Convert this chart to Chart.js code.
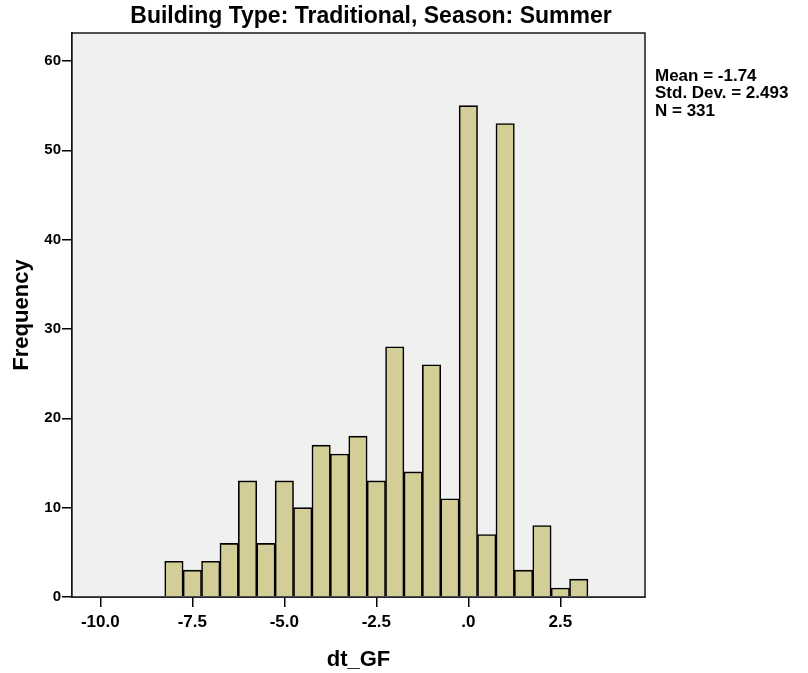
<!DOCTYPE html>
<html>
<head>
<meta charset="utf-8">
<script src="https://cdn.jsdelivr.net/npm/chart.js@4.4.1/dist/chart.umd.min.js"></script>
<style>
  html, body { margin: 0; padding: 0; background: #fff; }
</style>
</head>
<body>
<canvas id="histChart" width="808" height="673"></canvas>
<script>
// histogram bins (centre of each 0.5-wide bin) and counts
const binCenters = [-8.0, -7.5, -7.0, -6.5, -6.0, -5.5, -5.0, -4.5, -4.0, -3.5, -3.0, -2.5,
                    -2.0, -1.5, -1.0, -0.5, 0.0, 0.5, 1.0, 1.5, 2.0, 2.5, 3.0];
const frequencies = [4, 3, 4, 6, 13, 6, 13, 10, 17, 16, 18, 13,
                     28, 14, 26, 11, 55, 7, 53, 3, 8, 1, 2];
const xTickValues = [-10, -7.5, -5, -2.5, 0, 2.5];
const yTickValues = [0, 10, 20, 30, 40, 50, 60];
const statLines = ["Mean = -1.74", "Std. Dev. = 2.493", "N = 331"];
const chartTitle = "Building Type: Traditional, Season: Summer";

const FONT = "'Liberation Sans', Arial, sans-serif";

function fmtX(v) {
  let s = Number(v).toFixed(1);
  if (s === "0.0" || s === "-0.0") s = ".0";
  return s;
}

// panel background, frame, title and the summary block
const framePlugin = {
  id: "frame",
  beforeDatasetsDraw(chart) {
    const a = chart.chartArea, c = chart.ctx;
    c.save();
    c.fillStyle = "#f0f0f0";
    c.fillRect(a.left, a.top, a.right - a.left, a.bottom - a.top);
    c.restore();
  },
  afterDraw(chart) {
    const a = chart.chartArea, c = chart.ctx;
    c.save();
    c.strokeStyle = "#1a1a1a";
    c.lineWidth = 1.5;
    c.strokeRect(a.left, a.top, a.right - a.left, a.bottom - a.top);

    c.fillStyle = "#000";
    c.font = "bold 23px " + FONT;
    c.textAlign = "center";
    c.textBaseline = "middle";
    c.fillText(chartTitle, 371, 17);

    c.font = "bold 17px " + FONT;
    c.textAlign = "left";
    statLines.forEach((t, i) => c.fillText(t, 655, 76 + i * 17.5));
    c.restore();
  }
};

const ctx = document.getElementById("histChart").getContext("2d");

const histChart = new Chart(ctx, {
  type: "bar",
  data: {
    datasets: [
      {
        data: binCenters.map((x, i) => ({ x: x, y: frequencies[i] })),
        backgroundColor: "rgb(211, 206, 151)",
        borderColor: "#000",
        borderWidth: 1.6,
        barPercentage: 1,
        categoryPercentage: 1,
      },
    ],
  },
  options: {
    responsive: false,
    animation: false,
    layout: { padding: { top: 33, right: 163, left: 0, bottom: 0 } },
    plugins: {
      legend: { display: false },
      tooltip: { enabled: false },
    },
    scales: {
      x: {
        type: "linear",
        offset: false,
        min: -10.77,
        max: 4.8,
        afterBuildTicks(scale) {
          scale.ticks = xTickValues.map((v) => ({ value: v }));
        },
        afterFit(scale) {
          scale.height = 76;
        },
        grid: {
          offset: false,
          drawOnChartArea: false,
          color: "#000",
          tickLength: 10,
          lineWidth: 1.5,
        },
        border: { display: true, color: "#000", width: 1.8 },
        ticks: {
          color: "#000",
          font: { family: FONT, size: 17, weight: "bold" },
          padding: 5,
          maxRotation: 0,
          autoSkip: false,
          callback: (v) => fmtX(v),
        },
        title: {
          display: true,
          text: "dt_GF",
          color: "#000",
          font: { family: FONT, size: 22, weight: "bold" },
          padding: { top: 0, bottom: 0 },
        },
      },
      y: {
        type: "linear",
        min: 0,
        max: 63.13,
        afterBuildTicks(scale) {
          scale.ticks = yTickValues.map((v) => ({ value: v }));
        },
        afterFit(scale) {
          scale.width = 72;
        },
        grid: {
          drawOnChartArea: false,
          color: "#000",
          tickLength: 10,
          lineWidth: 1.5,
        },
        border: { display: true, color: "#000", width: 1.8 },
        ticks: {
          color: "#000",
          font: { family: FONT, size: 15, weight: "bold" },
          padding: 1,
        },
        title: {
          display: true,
          text: "Frequency",
          color: "#000",
          font: { family: FONT, size: 22, weight: "bold" },
          padding: { top: 9, bottom: 0 },
        },
      },
    },
  },
  plugins: [framePlugin],
});
</script>
</body>
</html>
